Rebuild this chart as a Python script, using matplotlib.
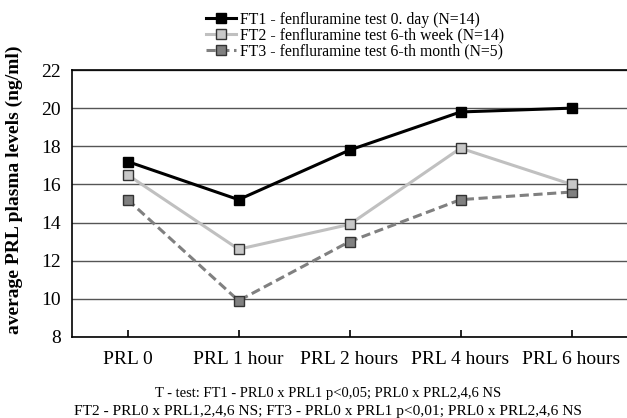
import matplotlib
matplotlib.use("Agg")
import matplotlib.pyplot as plt

# data
categories = ["PRL 0", "PRL 1 hour", "PRL 2 hours", "PRL 4 hours", "PRL 6 hours"]
ft1 = [17.2, 15.2, 17.8, 19.8, 20.0]
ft2 = [16.5, 12.6, 13.9, 17.9, 16.0]
ft3 = [15.2, 9.9, 13.0, 15.2, 15.6]
labels = [
    "FT1 - fenfluramine test 0. day (N=14)",
    "FT2 - fenfluramine test 6-th week (N=14)",
    "FT3 - fenfluramine test 6-th month (N=5)",
]
yticks = [8, 10, 12, 14, 16, 18, 20, 22]
note1 = "T - test: FT1 - PRL0 x PRL1 p<0,05; PRL0 x PRL2,4,6 NS"
note2 = "FT2 - PRL0 x PRL1,2,4,6 NS; FT3 - PRL0 x PRL1 p<0,01; PRL0 x PRL2,4,6 NS"

plt.rcParams["font.family"] = ["Liberation Serif", "DejaVu Serif"]

fig = plt.figure(figsize=(6.27, 4.18), dpi=100)
ax = fig.add_axes([0.115, 0.194, 0.885, 0.6385])

x = range(len(categories))
ax.plot(x, ft1, color="black", lw=2.2, marker="s", ms=6.8,
        mfc="black", mec="black", label=labels[0], zorder=5)
ax.plot(x, ft2, color="#c0c0c0", lw=2.2, marker="s", ms=6.8,
        mfc="#c8c8c8", mec="#333333", mew=1, label=labels[1], zorder=4)
ax.plot(x, ft3, color="#808080", lw=2.2, ls=(0, (3, 1.5)), marker="s", ms=6.8,
        mfc="#808080", mec="#333333", mew=1, label=labels[2], zorder=3)

ax.set_xlim(-0.5, 4.5)
ax.set_ylim(8, 22)
ax.set_yticks(yticks)
ax.set_xticks(list(x))
ax.set_xticklabels(categories, fontsize=14)
ax.tick_params(axis="y", length=0, labelsize=14, pad=8)
ax.tick_params(axis="x", direction="in", length=5, width=1.2, pad=10)
ax.yaxis.grid(True, color="#555555", lw=1.0)
ax.set_axisbelow(True)
ax.spines["right"].set_visible(False)
for s in ["left", "bottom", "top"]:
    ax.spines[s].set_linewidth(1.2)

ax.set_ylabel("average PRL plasma levels (ng/ml)", fontsize=14, fontweight="bold")
ax.yaxis.set_label_coords(-0.088, 0.55)

ax.legend(loc="lower center", bbox_to_anchor=(0.51, 1.0), frameon=False,
          fontsize=11.3, handlelength=1.9, labelspacing=0.0, handletextpad=0.3,
          borderpad=0.15)

fig.text(0.523, 0.058, note1, ha="center", va="center", fontsize=10.5)
fig.text(0.523, 0.015, note2, ha="center", va="center", fontsize=11.1)

fig.savefig("out.png", dpi=100)
